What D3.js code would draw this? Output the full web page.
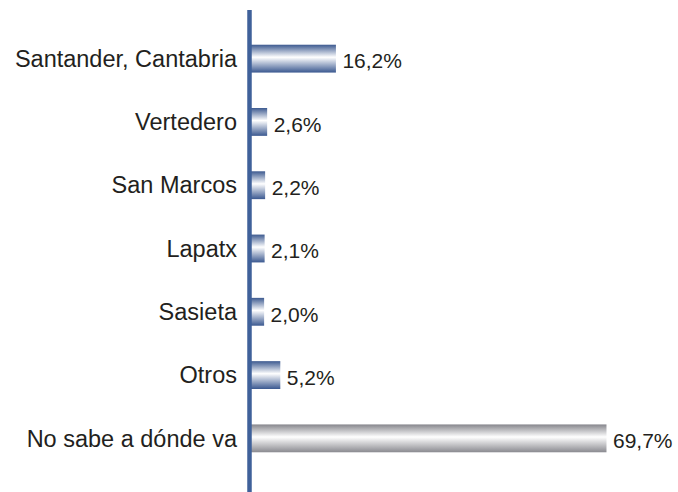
<!DOCTYPE html>
<html>
<head>
<meta charset="utf-8">
<script src="https://cdn.jsdelivr.net/npm/d3@7"></script>
<style>
  body { margin: 0; background: #fff; }
  text { font-family: "Liberation Sans", Arial, sans-serif; fill: #231f20; }
</style>
</head>
<body>
<svg id="chart"></svg>
<script>
'use strict';

var categories = ['Santander, Cantabria', 'Vertedero', 'San Marcos', 'Lapatx', 'Sasieta', 'Otros', 'No sabe a dónde va'];
var values = [16.2, 2.6, 2.2, 2.1, 2.0, 5.2, 69.7];
var value_labels = ['16,2%', '2,6%', '2,2%', '2,1%', '2,0%', '5,2%', '69,7%'];

var width = 678, height = 492;
var axis_x = 249.5;

var svg = d3.select('#chart').attr('width', width).attr('height', height);

var defs = svg.append('defs');
function makeGradient(id, edge_top, edge_bottom) {
    var g = defs.append('linearGradient').attr('id', id)
        .attr('x1', 0).attr('y1', 0).attr('x2', 0).attr('y2', 1);
    g.append('stop').attr('offset', '0%').attr('stop-color', edge_top);
    g.append('stop').attr('offset', '45%').attr('stop-color', '#ffffff');
    g.append('stop').attr('offset', '100%').attr('stop-color', edge_bottom);
}
makeGradient('grad-blue', '#3d5a90', '#3a5890');
makeGradient('grad-gray', '#86868c', '#8a8a90');

var y = d3.scaleBand().domain(categories).range([27, 470]).paddingInner(0.56).paddingOuter(0.28);
var x = d3.scaleLinear().domain([0, 70]).range([254, 608]);
var bar_start = axis_x;

svg.selectAll('.bar').data(categories).enter().append('rect')
    .attr('class', 'bar')
    .attr('x', bar_start)
    .attr('y', function (d) { return y(d); })
    .attr('width', function (d, i) { return x(values[i]) - bar_start; })
    .attr('height', y.bandwidth())
    .attr('fill', function (d, i) { return i === categories.length - 1 ? 'url(#grad-gray)' : 'url(#grad-blue)'; });

svg.selectAll('.cat-label').data(categories).enter().append('text')
    .attr('class', 'cat-label')
    .attr('x', 237)
    .attr('y', function (d) { return y(d) + y.bandwidth() / 2; })
    .attr('dy', '0.35em')
    .attr('text-anchor', 'end')
    .style('font-size', '23.5px')
    .text(function (d) { return d; });

svg.selectAll('.val-label').data(categories).enter().append('text')
    .attr('class', 'val-label')
    .attr('x', function (d, i) { return x(values[i]) + 6.5; })
    .attr('y', function (d) { return y(d) + y.bandwidth() / 2 + 2.5; })
    .attr('dy', '0.35em')
    .style('font-size', '21px')
    .text(function (d, i) { return value_labels[i]; });

svg.append('line')
    .attr('x1', axis_x).attr('x2', axis_x)
    .attr('y1', 10).attr('y2', height)
    .attr('stroke', '#3f619a').attr('stroke-width', 4.5);
</script>
</body>
</html>
